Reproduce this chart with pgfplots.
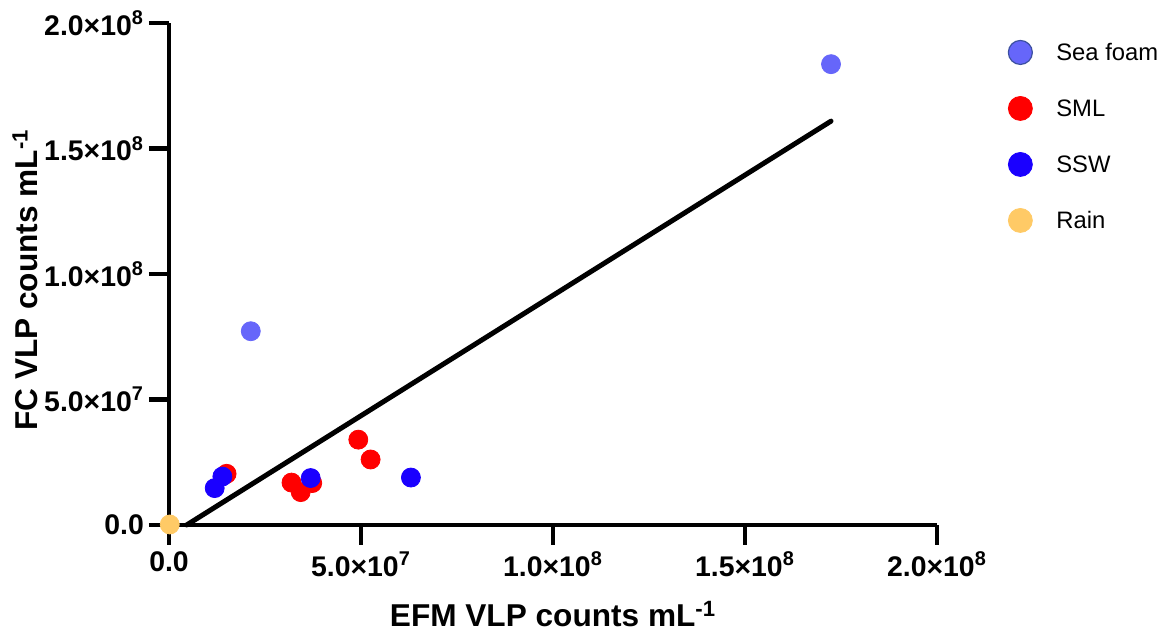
\documentclass[border=0pt]{standalone}
\usepackage{pgfplots}
\pgfplotsset{compat=1.18}
\usepackage{fontspec}
\setmainfont{Liberation Sans}
\definecolor{seafoam}{RGB}{102,102,250}
\definecolor{seaedge}{RGB}{60,80,160}
\definecolor{sml}{RGB}{255,0,0}
\definecolor{ssw}{RGB}{26,0,255}
\definecolor{rain}{RGB}{255,202,102}
\begin{document}
\begin{tikzpicture}
\useasboundingbox (-84.5pt,-55pt) rectangle (497.5pt,262.5pt);
\begin{axis}[
  at={(0pt,0pt)}, anchor=south west,
  scale only axis, width=384pt, height=251pt,
  xmin=0, xmax=2e8, ymin=0, ymax=2e8,
  clip=false,
  axis x line=bottom, axis y line=left,
  axis line style={-, line width=2.4pt, black},
  tick align=outside,
  major tick length=10pt,
  tick style={line width=2.4pt, black},
  minor tick num=0,
  xtick={0,5e7,1e8,1.5e8,2e8},
  ytick={0,5e7,1e8,1.5e8,2e8},
  xticklabels={0.0, 5.0×10\textsuperscript{7}, 1.0×10\textsuperscript{8}, 1.5×10\textsuperscript{8}, 2.0×10\textsuperscript{8}},
  yticklabels={0.0, 5.0×10\textsuperscript{7}, 1.0×10\textsuperscript{8}, 1.5×10\textsuperscript{8}, 2.0×10\textsuperscript{8}},
  scaled ticks=false,
  tick label style={font=\fontsize{14.2}{16}\selectfont\bfseries},
  yticklabel style={xshift=1pt},
  xlabel={EFM VLP counts mL\textsuperscript{-1}},
  ylabel={FC VLP counts mL\textsuperscript{-1}},
  label style={font=\fontsize{15.8}{18}\selectfont\bfseries},
  xlabel style={at={(axis description cs:0.5,-0.2032)}, anchor=base},
  ylabel style={at={(axis description cs:-0.1706,0.488)}, anchor=base, rotate=0},
  legend style={at={(axis description cs:1.0924,0.974)}, anchor=north west,
    draw=none, fill=none, inner sep=0pt, row sep=12pt,
    font=\fontsize{11.9}{13}\selectfont,
    nodes={inner sep=3pt, text height=9pt, text depth=1pt},
    /tikz/every odd column/.append style={column sep=9pt}},
  legend cell align=left,
  legend image code/.code={\draw[#1] plot coordinates {(0pt,0pt)};},
  legend image post style={mark size=6pt},
]
\addplot[only marks, mark=*, mark size=4.75pt, color=seafoam, mark options={fill=seafoam, draw=seafoam}, legend image post style={mark size=6pt, mark options={fill=seafoam, draw=seaedge, line width=0.6pt}}] coordinates {
 (21.3e6,77.2e6) (172.4e6,183.6e6)
};
\addlegendentry{Sea foam}
\addplot[only marks, mark=*, mark size=4.75pt, color=sml, mark options={fill=sml, draw=sml}] coordinates {
 (15.0e6,20.4e6) (31.9e6,16.9e6) (34.3e6,13.1e6) (37.3e6,16.7e6) (49.3e6,34.0e6) (52.5e6,26.1e6)
};
\addlegendentry{SML}
\addplot[only marks, mark=*, mark size=4.75pt, color=ssw, mark options={fill=ssw, draw=ssw}] coordinates {
 (13.9e6,19.3e6) (11.9e6,14.7e6) (36.9e6,18.7e6) (63.0e6,18.9e6)
};
\addlegendentry{SSW}
\addplot[forget plot, black, line width=2.5pt, line cap=round] coordinates {
 (4.6e6,0) (172.4e6,160.9e6)
};
\addplot[only marks, mark=*, mark size=4.75pt, color=rain, mark options={fill=rain, draw=rain}] coordinates {
 (0.2e6,0.2e6)
};
\addlegendentry{Rain}
\end{axis}
\end{tikzpicture}
\end{document}
